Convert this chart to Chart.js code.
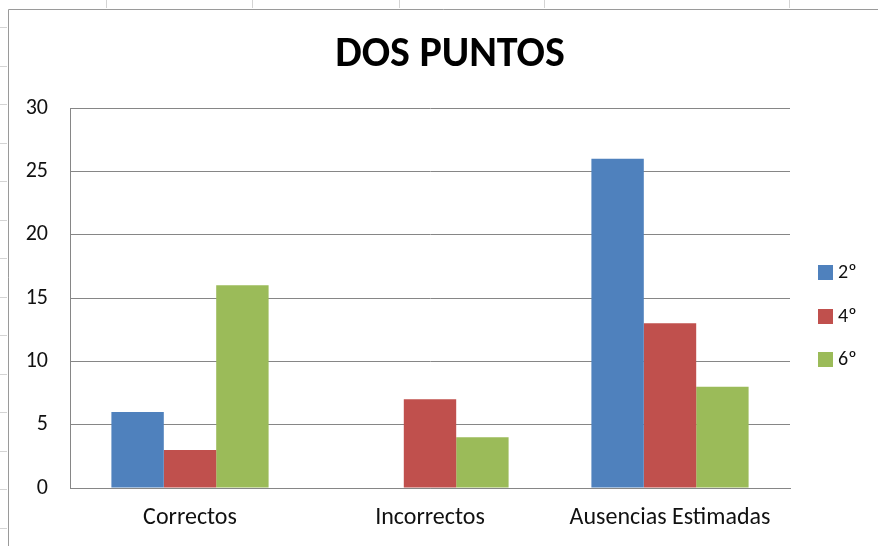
<!DOCTYPE html>
<html>
<head>
<meta charset="utf-8">
<script src="https://cdn.jsdelivr.net/npm/chart.js@4"></script>
<style>
  html, body { margin: 0; padding: 0; background: #fff; }
  #wrap { width: 878px; height: 546px; position: relative; }
</style>
</head>
<body>
<div id="wrap"><canvas id="c" width="878" height="546"></canvas></div>
<script>
const categories = ["Correctos", "Incorrectos", "Ausencias Estimadas"];
const seriesNames = ["2º", "4º", "6º"];
const values2 = [6, 0, 26];
const values4 = [3, 7, 13];
const values6 = [16, 4, 8];
const yTicks = [0, 5, 10, 15, 20, 25, 30];
const colors = ["#4F81BD", "#C0504D", "#9BBB59"];
const chartTitle = "DOS PUNTOS";
const FONT = "Carlito, Calibri, Lato, sans-serif";

const bgPlugin = {
  id: 'bg',
  beforeDraw(chart) {
    const ctx = chart.ctx;
    ctx.save();
    ctx.fillStyle = '#fff';
    ctx.fillRect(0, 0, chart.width, chart.height);
    // spreadsheet grid in the margins
    ctx.strokeStyle = '#d4d4d4';
    ctx.lineWidth = 1;
    [106, 252, 399, 544, 789].forEach(x => {
      ctx.beginPath(); ctx.moveTo(x + 0.5, 0); ctx.lineTo(x + 0.5, 8); ctx.stroke();
    });
    for (let y = 27; y < chart.height; y += 38.5) {
      ctx.beginPath(); ctx.moveTo(0, Math.round(y) + 0.5); ctx.lineTo(7, Math.round(y) + 0.5); ctx.stroke();
    }
    // chart border
    ctx.strokeStyle = '#9a9a9a';
    ctx.beginPath();
    ctx.moveTo(8.5, chart.height);
    ctx.lineTo(8.5, 9.5);
    ctx.lineTo(chart.width, 9.5);
    ctx.stroke();
    ctx.restore();
  }
};

const overlayPlugin = {
  id: 'overlay',
  afterDraw(chart) {
    const ctx = chart.ctx;
    ctx.save();
    // title
    ctx.font = "bold 42px " + FONT;
    ctx.textAlign = 'center';
    ctx.textBaseline = 'middle';
    ctx.fillStyle = '#000';
    ctx.fillText(chartTitle, 450, 55);
    // legend
    ctx.textAlign = 'left';
    ctx.font = "20px " + FONT;
    const ys = [272, 316, 359];
    chart.data.datasets.forEach((ds, i) => {
      ctx.fillStyle = ds.backgroundColor;
      ctx.fillRect(818, ys[i] - 7, 15, 15);
      ctx.fillStyle = '#111';
      ctx.fillText(ds.label, 838, ys[i] + 1);
    });
    ctx.restore();
  }
};

new Chart(document.getElementById('c'), {
  type: 'bar',
  data: {
    labels: categories,
    datasets: [
      { label: seriesNames[0], data: values2, backgroundColor: colors[0] },
      { label: seriesNames[1], data: values4, backgroundColor: colors[1] },
      { label: seriesNames[2], data: values6, backgroundColor: colors[2] }
    ]
  },
  options: {
    responsive: false,
    animation: false,
    devicePixelRatio: 1,
    layout: { padding: { left: 0, right: 88, top: 108, bottom: 0 } },
    categoryPercentage: 0.655,
    barPercentage: 1.0,
    plugins: {
      legend: { display: false },
      tooltip: { enabled: false },
      title: { display: false }
    },
    scales: {
      x: {
        afterFit(scale) { scale.height = 58; },
        grid: { display: false, drawTicks: false },
        border: { display: true, color: '#868686', width: 1 },
        ticks: { color: '#111', font: { family: FONT, size: 24 }, padding: 16, maxRotation: 0, autoSkip: false }
      },
      y: {
        min: 0, max: 30,
        afterFit(scale) { scale.width = 70; },
        afterBuildTicks(scale) { scale.ticks = yTicks.map(v => ({ value: v })); },
        grid: { color: '#868686', drawTicks: false },
        border: { display: true, color: '#868686', width: 1 },
        ticks: { color: '#111', font: { family: FONT, size: 22 }, padding: 22 }
      }
    }
  },
  plugins: [bgPlugin, overlayPlugin]
});
</script>
</body>
</html>
